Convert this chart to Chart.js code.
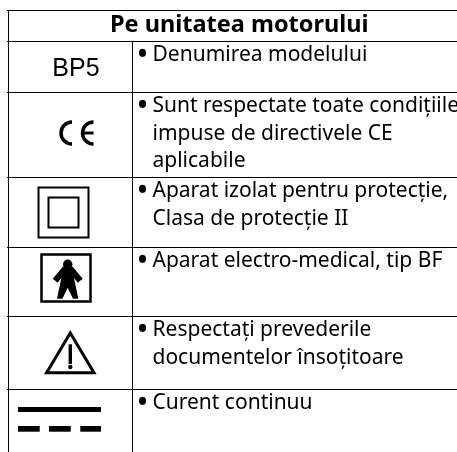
<!DOCTYPE html>
<html>
<head>
<meta charset="utf-8">
<script src="https://cdn.jsdelivr.net/npm/chart.js@4/dist/chart.umd.min.js"></script>
<style>
html, body { margin: 0; padding: 0; background: #fff; }
#wrap { width: 457px; height: 452px; }
</style>
</head>
<body>
<div id="wrap"><canvas id="tableChart"></canvas></div>
<script>
var title = "Pe unitatea motorului";
var modelName = "BP5";
var rowEdges = [10.5, 41.5, 92.5, 177.5, 247.5, 316.5, 389.5, 452];
var columnEdges = [8.5, 132.5];
var rowTexts = [
	["Denumirea modelului"],
	["Sunt respectate toate condițiile", "impuse de directivele CE", "aplicabile"],
	["Aparat izolat pentru protecție,", "Clasa de protecție II"],
	["Aparat electro-medical, tip BF"],
	["Respectați prevederile", "documentelor însoțitoare"],
	["Curent continuu"]
];
var symbols = [null, "ce", "double", "bf", "warning", "dc"];

var ink = "#000000";

// every symbol is painted on its own cell sized canvas, the chart places it as a point image
function symbolCanvas(name, w, h) {
	var c = document.createElement("canvas");
	c.width = w;
	c.height = h;
	var g = c.getContext("2d");
	g.strokeStyle = ink;
	g.fillStyle = ink;
	if (name === "ce") {
		g.lineWidth = 3.5;
		g.beginPath();
		g.arc(64, 41, 11, Math.PI * 0.5, Math.PI * 1.5);
		g.stroke();
		g.beginPath();
		g.arc(85.5, 41, 11, Math.PI * 0.5, Math.PI * 1.5);
		g.stroke();
		g.fillRect(75, 39.5, 10.5, 3);
	}
	if (name === "double") {
		g.lineWidth = 2;
		g.strokeRect(30.5, 10.5, 50, 50);
		g.strokeRect(40.5, 20.5, 30, 30);
	}
	if (name === "bf") {
		g.lineWidth = 2.5;
		g.strokeRect(33.5, 7.5, 49, 47);
		g.beginPath();
		g.arc(59.7, 17.3, 4.7, 0, Math.PI * 2);
		g.fill();
		g.beginPath();
		g.moveTo(55, 19.5);
		g.lineTo(64.5, 19.5);
		g.lineTo(74.7, 31.7);
		g.lineTo(69.7, 35.7);
		g.lineTo(66, 30.7);
		g.lineTo(70.3, 51.7);
		g.lineTo(65, 51.7);
		g.lineTo(59.7, 40.7);
		g.lineTo(54.4, 51.7);
		g.lineTo(49, 51.7);
		g.lineTo(53.4, 30.7);
		g.lineTo(49.7, 35.7);
		g.lineTo(44.7, 31.7);
		g.closePath();
		g.fill();
	}
	if (name === "warning") {
		g.lineWidth = 3;
		g.lineJoin = "miter";
		g.beginPath();
		g.moveTo(62.3, 16.9);
		g.lineTo(86, 56.8);
		g.lineTo(38.6, 56.8);
		g.closePath();
		g.stroke();
		g.fillRect(60.6, 28.3, 3.4, 19.7);
		g.beginPath();
		g.arc(62.3, 51, 2.2, 0, Math.PI * 2);
		g.fill();
	}
	if (name === "dc") {
		g.fillRect(10, 18, 83, 5);
		g.fillRect(10, 37, 21.7, 5.7);
		g.fillRect(41, 37, 21.7, 5.7);
		g.fillRect(72.3, 37, 20.7, 5.7);
	}
	return c;
}

var symbolPoints = [];
var symbolImages = [];
var cellLeft = Math.floor(columnEdges[0]);
var cellW = Math.round(columnEdges[1] - columnEdges[0]);
symbols.forEach(function(name, i) {
	if (!name) return;
	var cellTop = Math.floor(rowEdges[i + 1]);
	var cellH = Math.round(rowEdges[i + 2] - rowEdges[i + 1]);
	symbolPoints.push({ x: cellLeft + cellW / 2, y: cellTop + cellH / 2 });
	symbolImages.push(symbolCanvas(name, cellW, cellH));
});

var tableText = {
	id: "tableText",
	afterDatasetsDraw: function(chart) {
		var g = chart.ctx;
		var xs = chart.scales.x;
		var ys = chart.scales.y;
		g.save();
		g.fillStyle = ink;
		g.textBaseline = "alphabetic";
		g.textAlign = "left";
		g.font = "bold 23.5px 'Noto Sans'";
		g.fillText(title, xs.getPixelForValue(110), ys.getPixelForValue(rowEdges[0]) + 21);
		g.font = "25px 'Liberation Sans'";
		g.textAlign = "center";
		g.fillText(modelName, xs.getPixelForValue(76), ys.getPixelForValue(rowEdges[1]) + 34.5);
		g.textAlign = "left";
		rowTexts.forEach(function(lines, r) {
			var top = ys.getPixelForValue(rowEdges[r + 1]);
			var left = xs.getPixelForValue(columnEdges[1]);
			g.font = "32px 'Noto Sans'";
			g.fillText("\u2022", left + 4, top + 23.5);
			g.font = "21px 'Noto Sans'";
			lines.forEach(function(line, i) {
				g.fillText(line, left + 20, top + 19.5 + i * 27.5);
			});
		});
		g.restore();
	}
};

new Chart(document.getElementById("tableChart"), {
	type: "scatter",
	data: {
		datasets: [
			{
				data: [{x: columnEdges[0], y: rowEdges[0]}, {x: columnEdges[0], y: rowEdges[7]}],
				showLine: true,
				borderColor: ink,
				borderWidth: 1,
				pointRadius: 0
			},
			{
				data: [{x: columnEdges[1], y: rowEdges[1]}, {x: columnEdges[1], y: rowEdges[7]}],
				showLine: true,
				borderColor: ink,
				borderWidth: 1,
				pointRadius: 0
			},
			{
				data: symbolPoints,
				pointStyle: symbolImages,
				showLine: false
			}
		]
	},
	options: {
		responsive: true,
		maintainAspectRatio: false,
		animation: false,
		layout: { autoPadding: false, padding: { left: 7 } },
		plugins: { legend: { display: false }, tooltip: { enabled: false } },
		scales: {
			x: {
				type: "linear",
				display: false,
				min: 7,
				max: 457
			},
			y: {
				type: "linear",
				reverse: true,
				min: 0,
				max: 452,
				afterBuildTicks: function(axis) {
					axis.ticks = rowEdges.slice(0, 7).map(function(v) { return { value: v }; });
				},
				grid: { color: ink, lineWidth: 1, drawTicks: false },
				border: { display: false },
				ticks: { display: false }
			}
		}
	},
	plugins: [tableText]
});
</script>
</body>
</html>
